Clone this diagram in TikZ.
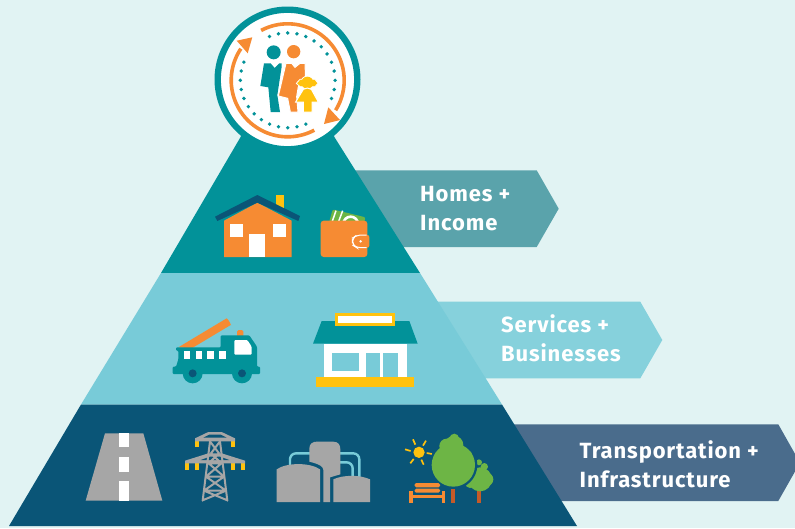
\documentclass[tikz,border=0pt]{standalone}
\usepackage{fontspec}
\setmainfont{Fira Sans}
\definecolor{bgc}{HTML}{E1F3F3}
\definecolor{tealc}{HTML}{029299}
\definecolor{midc}{HTML}{78CBD8}
\definecolor{darkc}{HTML}{0A5577}
\definecolor{arrA}{HTML}{5AA3AB}
\definecolor{arrB}{HTML}{86D1DC}
\definecolor{arrC}{HTML}{4A6C8C}
\definecolor{orangec}{HTML}{F68B33}
\definecolor{yellowc}{HTML}{FFC20E}
\definecolor{greenc}{HTML}{6DB545}
\definecolor{greyc}{HTML}{A6A6A6}
\definecolor{brownc}{HTML}{C55A28}
\tikzset{
  banner/.style={anchor=base west,align=left,text=white,inner sep=0pt,font=\fontsize{22}{29}\selectfont\bfseries\addfontfeatures{LetterSpace=4}},
  icon/.style={scale=0.33333},
}
\begin{document}
\begin{tikzpicture}[x=1pt,y=-1pt]
\useasboundingbox (0,0) rectangle (795,528);
\fill[bgc] (0,0) rectangle (795,528);
% chevrons
\fill[arrA] (350,170.3) -- (536.7,170.3) -- (558.7,208.7) -- (536.7,247) -- (380,247) -- cycle;
\fill[arrB] (430,301.7) -- (640.3,301.7) -- (662.3,340) -- (640.3,378.3) -- (470,378.3) -- cycle;
\fill[arrC] (505,424.3) -- (778.3,424.3) -- (800,462.7) -- (778.3,501) -- (540,501) -- cycle;
% tiers
\fill[tealc] (250,120) -- (325,120) -- (335,138) -- (420,273) -- (161,273) -- (240,138) -- cycle;
\fill[midc] (161,273) -- (420,273) -- (502,404.5) -- (81,404.5) -- cycle;
\fill[darkc] (81,404.5) -- (502,404.5) -- (577,526) -- (9,526) -- cycle;
% labels
\node[banner] (t1) at (420,230) {Homes +\\Income};
\node[banner] (t2) at (501,361.7) {Services +\\Businesses};
\node[banner] (t3) at (579.5,487.7) {Transportation +\\Infrastructure};
% medallion
\draw[tealc,fill=white,line width=6.4pt] (287.5,79.5) circle (69.8);
\draw[orangec,line width=3.6pt] plot[domain=118:-32,samples=50] ({287.7+56.5*cos(\x)},{80.3-56.5*sin(\x)});
\draw[orangec,line width=3.6pt] plot[domain=-62:-214,samples=50] ({287.7+56.5*cos(\x)},{80.3-56.5*sin(\x)});
\fill[orangec] (236.7,40.7) -- (252.3,37.3) -- (247.7,53.3) -- cycle;
\fill[orangec] (324,124) -- (340,120) -- (328.3,107.3) -- cycle;
\foreach \a in {112.5,101.25,...,-23} \fill[tealc] ({287.7+47.4*cos(\a)},{80.3-47.4*sin(\a)}) circle (1.9);
\foreach \a in {157.5,168.75,...,293} \fill[tealc] ({287.7+47.4*cos(\a)},{80.3-47.4*sin(\a)}) circle (1.9);
% family
\begin{scope}[shift={(200,0)},icon]
\fill[tealc] (221,157) circle (21);
\fill[tealc] (192,190) -- (212,190) -- (224,204) -- (238,190) -- (245,190) -- (245,200) -- (232,285) -- (240,336) -- (212,336) -- (205,262) -- (181,258) -- cycle;
\fill[orangec] (281,155) circle (20);
\draw[white,line width=1pt,fill=orangec] (258,190) -- (275,190) -- (285,202) -- (300,190) -- (315,190) -- (317,240) -- (295,260) -- (290,290) -- (294,336) -- (271,336) -- (263,295) -- (235,288) -- cycle;
\draw[white,line width=1.2pt,fill=yellowc] (322,248) circle (19);
\draw[white,line width=0.8pt,fill=yellowc] (289,250) -- (300,238) -- (345,238) -- (354,250) -- (345,260) -- (300,260) -- cycle;
\fill[yellowc] (322,248) circle (18);
\draw[white,line width=1pt,fill=yellowc] (322,264) -- (334,268) -- (355,306) -- (336,306) -- (336,336) -- (310,336) -- (310,306) -- (287,306) -- (310,268) -- cycle;
\end{scope}
% house and wallet
\begin{scope}[shift={(200,180)},icon]
\fill[yellowc] (228,45) rectangle (252,85);
\fill[orangec] (72,122) -- (172,68) -- (275,122) -- (275,231) -- (72,231) -- cycle;
\fill[darkc] (45,110) -- (172,45) -- (300,108) -- (295,123) -- (172,68) -- (52,123) -- cycle;
\fill[white] (90,132) rectangle (129,171);
\fill[white] (219,132) rectangle (258,171);
\fill[white] (147,162) rectangle (195,231);
\fill[greenc,rounded corners=2pt] (398,88) -- (497,112) -- (480,165) -- (385,135) -- cycle;
\draw[white,line width=1.5pt] (393,135) -- (408,92);
\draw[white,line width=1.5pt] (412,135) -- (428,92);
\draw[white,line width=2.6pt] (452,132) circle (22);
\fill[orangec,rounded corners=3pt] (362,122) rectangle (502,231);
\fill[orangec,rounded corners=2pt] (480,165) rectangle (508,203);
\draw[white,line width=1pt,rounded corners=5pt] (500,165) -- (470,165) -- (457,175) -- (457,195) -- (470,203) -- (500,203);
\fill[white] (482,184) circle (4);
\end{scope}
% truck and shop
\begin{scope}[shift={(160,300)},icon]
\fill[orangec] (55,142) -- (200,55) to[out=-30,in=-60] (212,75) -- (95,145) -- cycle;
\fill[orangec,rounded corners=1.5pt] (231,90) rectangle (250,112);
\fill[tealc,rounded corners=1pt] (48,142) -- (182,142) -- (182,106) -- (268,106) -- (291,140) -- (291,200) -- (300,200) -- (300,222) -- (38,222) -- (38,200) -- (48,200) -- (55,178) -- (55,152) -- (48,152) -- cycle;
\fill[tealc] (98,220) circle (30);
\fill[tealc] (246,220) circle (30);
\fill[darkc] (98,220) circle (12);
\fill[darkc] (246,220) circle (12);
\foreach \x in {71,107,142,178} \fill[white] (\x,154) rectangle (\x+19,178);
\fill[white,rounded corners=1pt] (223,120) -- (262,120) -- (275,140) -- (275,164) -- (223,164) -- cycle;
\fill[tealc] (485,63) -- (748,63) -- (773,131) -- (459,131) -- cycle;
\fill[yellowc] (524,39) rectangle (706,77);
\fill[white] (533,47) rectangle (697,70);
\fill[white] (492,131) rectangle (740,231);
\fill[midc] (516,160) rectangle (598,213);
\fill[midc] (618,158) rectangle (661,231);
\fill[midc] (670,158) rectangle (714,231);
\fill[yellowc] (468,231) rectangle (761,261);
\end{scope}
% road and pylon
\begin{scope}[shift={(70,420)},icon]
\fill[greyc] (105,40) -- (220,40) -- (277,242) -- (47,242) -- cycle;
\fill[white] (148,40) rectangle (177,82);
\fill[white] (148,112) rectangle (177,156);
\fill[white] (148,184) rectangle (177,242);
\fill[yellowc] (375,62) rectangle (387,81);
\fill[yellowc] (483,62) rectangle (495,81);
\foreach \x in {345,375,483,513} \fill[yellowc] (\x,128) rectangle (\x+12,149);
\fill[greyc] (375,55) -- (415,36) -- (455,36) -- (495,55) -- (495,64) -- (375,64) -- cycle;
\fill[darkc] (400,53) -- (418,44) -- (452,44) -- (470,53) -- cycle;
\fill[greyc] (345,122) -- (415,100) -- (455,100) -- (525,122) -- (525,130) -- (345,130) -- cycle;
\fill[darkc] (392,120) -- (420,110) -- (450,110) -- (478,120) -- cycle;
\draw[greyc,line width=2pt,line cap=round,line join=round]
  (420,64) -- (398,242) (450,64) -- (472,242)
  (420,64) -- (447,100) -- (416,130) -- (462,170) -- (402,212) -- (470,240)
  (450,64) -- (423,100) -- (454,130) -- (408,170) -- (468,212) -- (400,240)
  (416,130) -- (454,130) (408,170) -- (462,170) (402,212) -- (468,212);
\end{scope}
% tanks and park
\begin{scope}[shift={(270,420)},icon]
\draw[midc,line width=2.4pt,rounded corners=6pt] (60,140) -- (60,100) -- (268,100) -- (268,175);
\draw[midc,line width=2.4pt,rounded corners=6pt] (205,127) -- (248,127) -- (248,175);
\fill[greyc] (118,125) -- (118,85) .. controls (118,70) and (130,65) .. (140,65) -- (190,65) .. controls (205,65) and (211,75) .. (211,88) -- (211,163) -- (180,172) -- (180,246) -- (160,246) -- (160,150) .. controls (160,140) and (150,133) .. (118,125) -- cycle;
\fill[greyc] (20,246) -- (20,148) .. controls (50,127) and (120,127) .. (150,148) -- (150,246) -- cycle;
\fill[greyc] (190,246) -- (190,178) .. controls (220,164) and (270,164) .. (300,178) -- (300,246) -- cycle;
% sun
\fill[yellowc] (447,97) circle (17);
\draw[yellowc,line width=1.7pt] (429,58) -- (436,74) (468,62) -- (459,77) (405,88) -- (422,93) (486,102) -- (470,99) (421,130) -- (431,117) (461,134) -- (454,119);
% small tree
\fill[brownc] (621,205) rectangle (633,248);
\fill[greenc] (630,178) circle (36);
\fill[greenc] (627,127) circle (9);
\fill[greenc] (643,140) circle (11);
\fill[greenc] (650,178) circle (20);
\fill[greenc] (600,190) circle (14);
% big tree
\fill[brownc] (543,190) rectangle (555,248);
\fill[darkc] (550,135) circle (72);
\fill[greenc] (550,135) circle (65);
\fill[greenc] (530,78) circle (22);
\fill[greenc] (553,55) circle (14);
\fill[greenc] (592,106) circle (15);
\fill[greenc] (552,75) circle (28);
% bench
\fill[orangec,rounded corners=1.5pt] (434,189) rectangle (510,202);
\fill[orangec,rounded corners=1.5pt] (434,206) rectangle (510,218);
\fill[orangec] (417,226) rectangle (526,234);
\fill[orangec] (417,212) rectangle (429,248);
\fill[orangec] (516,212) rectangle (526,248);
\end{scope}
\end{tikzpicture}
\end{document}
